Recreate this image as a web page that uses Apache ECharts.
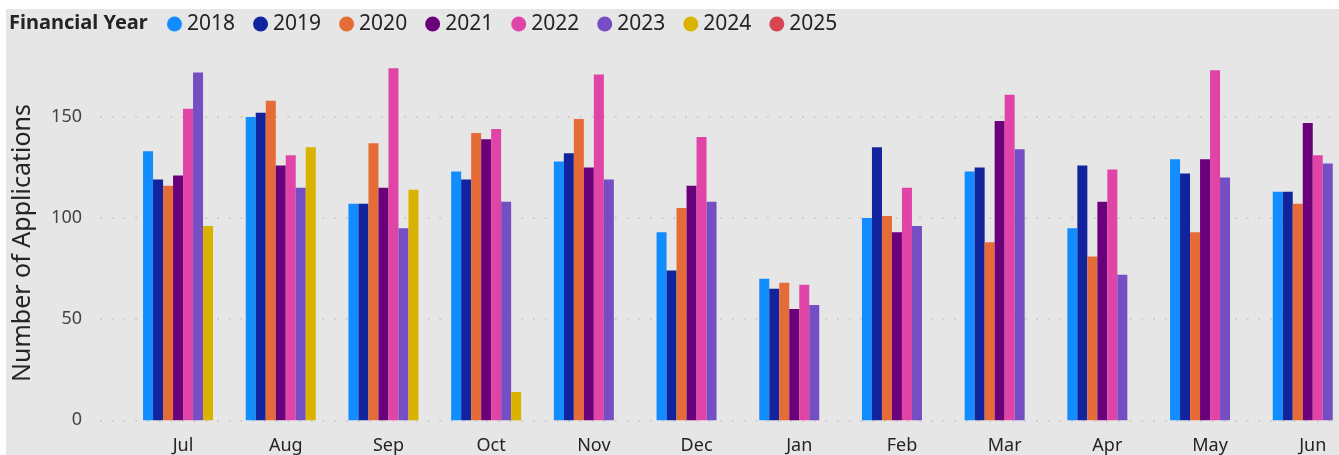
<!DOCTYPE html>
<html>
<head>
<meta charset="utf-8">
<script src="https://cdn.jsdelivr.net/npm/echarts@6/dist/echarts.min.js"></script>
<style>
  html, body { margin: 0; padding: 0; background: #ffffff; }
  #chart { width: 1339px; height: 455px; }
</style>
</head>
<body>
<div id="chart"></div>
<script>
// Monthly application counts, grouped by financial year (Jul–Jun)
const months = ['Jul', 'Aug', 'Sep', 'Oct', 'Nov', 'Dec', 'Jan', 'Feb', 'Mar', 'Apr', 'May', 'Jun'];
const years = ['2018', '2019', '2020', '2021', '2022', '2023', '2024', '2025'];

const fy2018 = [133, 150, 107, 123, 128, 93, 70, 100, 123, 95, 129, 113];
const fy2019 = [119, 152, 107, 119, 132, 74, 65, 135, 125, 126, 122, 113];
const fy2020 = [116, 158, 137, 142, 149, 105, 68, 101, 88, 81, 93, 107];
const fy2021 = [121, 126, 115, 139, 125, 116, 55, 93, 148, 108, 129, 147];
const fy2022 = [154, 131, 174, 144, 171, 140, 67, 115, 161, 124, 173, 131];
const fy2023 = [172, 115, 95, 108, 119, 108, 57, 96, 134, 72, 120, 127];
const fy2024 = [96, 135, 114, 14, null, null, null, null, null, null, null, null];
const fy2025 = [null, null, null, null, null, null, null, null, null, null, null, null];

const yTicks = [0, 50, 100, 150];

const seriesData = [fy2018, fy2019, fy2020, fy2021, fy2022, fy2023, fy2024, fy2025];
const palette = ['#118DFF', '#12239E', '#E66C37', '#6B007B', '#E044A7', '#744EC2', '#D9B300', '#D64550'];

const FONT = '"Noto Sans", "Open Sans", sans-serif';
const Y_MAX = 180;
const GRID_TOP = 56.2;
const GRID_BOTTOM = 34.7;

const chart = echarts.init(document.getElementById('chart'), null, { renderer: 'canvas' });

chart.setOption({
  backgroundColor: '#ffffff',
  animation: false,
  color: palette,
  graphic: [
    { type: 'rect', z: -10, silent: true, shape: { x: 6, y: 9, width: 1333, height: 446 }, style: { fill: '#e6e6e6' } },
    { type: 'text', x: 9, y: 23, silent: true,
      style: { text: 'Financial Year', font: 'bold 20px ' + FONT, fill: '#252423', verticalAlign: 'middle' } },
    { type: 'text', x: 23, y: 243, rotation: Math.PI / 2, silent: true,
      style: { text: 'Number of Applications', font: '25px ' + FONT, fill: '#252423', align: 'center', verticalAlign: 'middle' } }
  ],
  legend: {
    data: years,
    left: 167,
    top: 12,
    padding: 0,
    icon: 'circle',
    itemWidth: 15,
    itemHeight: 15,
    itemGap: 18,
    textStyle: { fontFamily: FONT, fontSize: 21, color: '#252423', lineHeight: 24 }
  },
  grid: [
    // plot area for the bars; the last band runs past the right edge
    { left: 131.7, width: 1232.4, top: GRID_TOP, bottom: GRID_BOTTOM, outerBoundsMode: 'none', containLabel: false },
    // wider area carrying the value labels and dotted gridlines
    { left: 100, right: 0, top: GRID_TOP, bottom: GRID_BOTTOM, outerBoundsMode: 'none', containLabel: false }
  ],
  xAxis: [
    {
      type: 'category', gridIndex: 0, data: months,
      axisLine: { show: false }, axisTick: { show: false },
      axisLabel: { fontFamily: FONT, fontSize: 18, color: '#252423', margin: 17 }
    },
    { type: 'category', gridIndex: 1, data: [''], show: false }
  ],
  yAxis: [
    { type: 'value', gridIndex: 0, min: 0, max: Y_MAX, interval: 50, show: false, splitLine: { show: false } },
    {
      type: 'value', gridIndex: 1, min: 0, max: Y_MAX, interval: 50,
      axisLine: { show: false }, axisTick: { show: false },
      axisLabel: {
        fontFamily: FONT, fontSize: 18, color: '#444444', margin: 18, showMaxLabel: false,
        formatter: v => (yTicks.indexOf(v) >= 0 ? String(v) : '')
      },
      splitLine: {
        show: true,
        lineStyle: {
          color: ['#c8c8c8', '#c8c8c8', '#c8c8c8', '#c8c8c8', 'rgba(0,0,0,0)'],
          width: 1.6, type: [2, 9.7]
        }
      }
    }
  ],
  series: years.map((y, i) => ({
    name: y,
    type: 'bar',
    xAxisIndex: 0,
    yAxisIndex: 0,
    data: seriesData[i],
    barWidth: 10,
    barGap: '0%',
    itemStyle: { color: palette[i] }
  }))
});
</script>
</body>
</html>
